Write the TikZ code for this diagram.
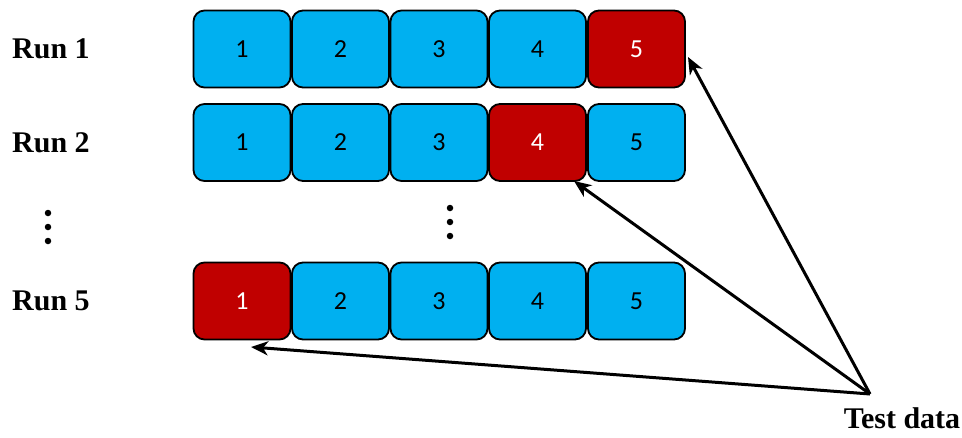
\documentclass[tikz,border=0pt]{standalone}
\usepackage{fontspec}
\setmainfont{Liberation Serif}
\newfontfamily\numfont{Carlito}
\usetikzlibrary{arrows.meta}
\begin{document}
\begin{tikzpicture}[x=1pt,y=-1pt,
  cell/.style={draw=black, line width=1.8pt, rounded corners=11pt,
    minimum width=97pt, minimum height=77pt, inner sep=0pt,
    font=\numfont\fontsize{26}{26}\selectfont},
  train/.style={cell, fill=cellblue, text=black},
  test/.style={cell, fill=cellred, text=white},
  runlabel/.style={font=\bfseries\fontsize{30}{30}\selectfont, anchor=west, inner sep=0pt},
  vdot/.style={circle, fill=black, inner sep=0pt, minimum size=6.5pt},
  pointer/.style={-{Stealth[length=17pt,width=14pt,inset=5pt]}, line width=3pt}]
\definecolor{cellblue}{HTML}{00B0F0}
\definecolor{cellred}{HTML}{C00000}
\useasboundingbox (0,0) rectangle (962,437);

% Run 1: fold 5 held out
\node[train] (a1) at (242,49) {1};
\node[train] (a2) at (340.5,49) {2};
\node[train] (a3) at (439,49) {3};
\node[train] (a4) at (537.5,49) {4};
\node[test]  (a5) at (636.5,49) {5};

% Run 2: fold 4 held out
\node[train] (b1) at (242,142.5) {1};
\node[train] (b2) at (340.5,142.5) {2};
\node[train] (b3) at (439,142.5) {3};
\node[test]  (b4) at (537.5,142.5) {4};
\node[train] (b5) at (636.5,142.5) {5};

% Run 5: fold 1 held out
\node[test]  (c1) at (242,301) {1};
\node[train] (c2) at (340.5,301) {2};
\node[train] (c3) at (439,301) {3};
\node[train] (c4) at (537.5,301) {4};
\node[train] (c5) at (636.5,301) {5};

% row labels
\node[runlabel] (r1) at (12,49) {Run 1};
\node[runlabel] (r2) at (12,143) {Run 2};
\node[runlabel] (r5) at (12,301) {Run 5};

% ellipses between rows
\node[vdot] (d1) at (48,213) {};
\node[vdot] (d2) at (48,227) {};
\node[vdot] (d3) at (48,241) {};
\node[vdot] (m1) at (450,208) {};
\node[vdot] (m2) at (450,222) {};
\node[vdot] (m3) at (450,236) {};

% test data pointers
\node[font=\bfseries\fontsize{30}{30}\selectfont, inner sep=0pt] (td) at (902,418) {Test data};
\coordinate (src) at (870,394);
\coordinate (t1) at (688,57);
\coordinate (t2) at (574,181);
\coordinate (t5) at (251,347);
\draw[pointer] (src) -- (t1);
\draw[pointer] (src) -- (t2);
\draw[pointer] (src) -- (t5);
\end{tikzpicture}
\end{document}
